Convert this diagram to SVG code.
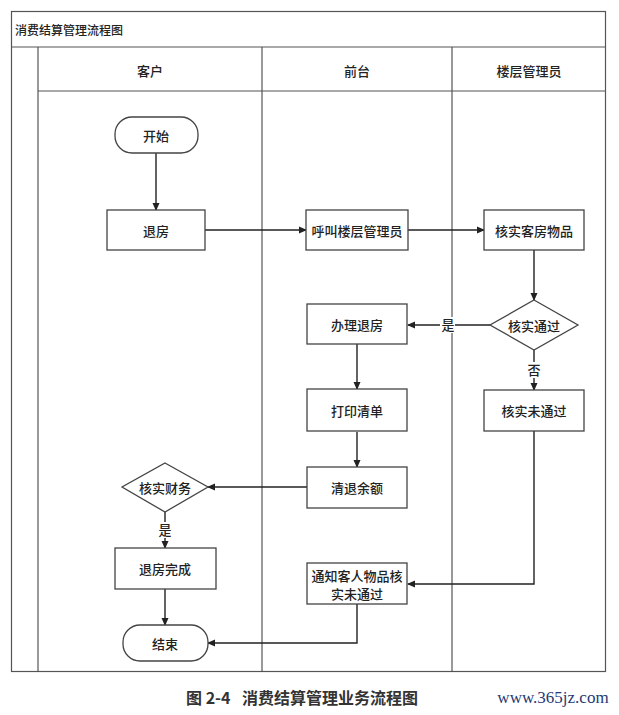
<svg xmlns="http://www.w3.org/2000/svg" width="619" height="715" viewBox="0 0 619 715">
<style>
text{font-family:"Noto Sans CJK SC","Liberation Sans",sans-serif;fill:#222;text-anchor:middle;dominant-baseline:central}
.frame{fill:none;stroke:#555;stroke-width:1.2}
.box{fill:#fff;stroke:#444;stroke-width:1.3}
.lbl{font-size:13px;font-weight:500}
.edge{fill:none;stroke:#222;stroke-width:1.4;marker-end:url(#ah)}
.cap{font-size:16px;font-weight:bold;fill:#333}
</style>
<defs>
<marker id="ah" markerWidth="8" markerHeight="8" refX="7" refY="4" orient="auto" markerUnits="userSpaceOnUse">
<path d="M0,0.5 L8,4 L0,7.5 Z" fill="#222"/>
</marker>
</defs>
<rect width="619" height="715" fill="#fff"/>
<g id="frame">
<rect class="frame" x="11.5" y="11.5" width="594" height="660"/>
<line class="frame" x1="11.5" y1="47" x2="605.5" y2="47"/>
<line class="frame" x1="38" y1="91" x2="605.5" y2="91"/>
<line class="frame" x1="38" y1="47" x2="38" y2="671.5"/>
<line class="frame" x1="262" y1="47" x2="262" y2="671.5"/>
<line class="frame" x1="452" y1="47" x2="452" y2="671.5"/>
<text x="15" y="29" style="font-size:12px;font-weight:500;text-anchor:start">消费结算管理流程图</text>
<text x="150" y="70" class="lbl">客户</text>
<text x="357" y="70" class="lbl">前台</text>
<text x="529" y="70" class="lbl">楼层管理员</text>
</g>
<g id="connectors">
<line class="edge" x1="156" y1="152" x2="156" y2="210"/>
<line class="edge" x1="205" y1="230" x2="306" y2="230"/>
<line class="edge" x1="408" y1="230" x2="484" y2="230"/>
<line class="edge" x1="534" y1="250" x2="534" y2="300"/>
<line class="edge" x1="490" y1="325" x2="408" y2="325"/>
<line class="edge" x1="534" y1="350" x2="534" y2="390"/>
<line class="edge" x1="357" y1="344" x2="357" y2="389"/>
<line class="edge" x1="357" y1="432" x2="357" y2="467"/>
<line class="edge" x1="307" y1="487" x2="208" y2="487"/>
<line class="edge" x1="165" y1="512" x2="165" y2="548"/>
<line class="edge" x1="165" y1="589" x2="165" y2="625"/>
<polyline class="edge" points="534,431 534,584 408,584"/>
<polyline class="edge" points="357,604 357,643 208,643"/>
<rect x="440" y="317" width="15" height="16" fill="#fff"/>
<text x="448" y="324" class="lbl">是</text>
<rect x="527" y="362" width="15" height="16" fill="#fff"/>
<text x="534" y="369" class="lbl">否</text>
<rect x="158" y="522" width="15" height="16" fill="#fff"/>
<text x="165" y="529" class="lbl">是</text>
</g>
<g id="start"><rect class="box" x="115" y="117" width="83" height="36" rx="17"/><text x="156" y="135" class="lbl">开始</text></g>
<g id="checkout"><rect class="box" x="107" y="210" width="98" height="40"/><text x="156" y="230" class="lbl">退房</text></g>
<g id="call"><rect class="box" x="306" y="210" width="102" height="40"/><text x="357" y="230" class="lbl">呼叫楼层管理员</text></g>
<g id="verify"><rect class="box" x="484" y="210" width="100" height="40"/><text x="534" y="230" class="lbl">核实客房物品</text></g>
<g id="pass"><polygon class="box" points="534,300 578,325 534,350 490,325"/><text x="534" y="325" class="lbl">核实通过</text></g>
<g id="handle"><rect class="box" x="307" y="304" width="100" height="40"/><text x="357" y="324" class="lbl">办理退房</text></g>
<g id="print"><rect class="box" x="307" y="389" width="100" height="42"/><text x="357" y="410" class="lbl">打印清单</text></g>
<g id="refund"><rect class="box" x="307" y="467" width="100" height="41"/><text x="357" y="487" class="lbl">清退余额</text></g>
<g id="fail"><rect class="box" x="484" y="390" width="100" height="41"/><text x="534" y="410" class="lbl">核实未通过</text></g>
<g id="finance"><polygon class="box" points="165,463 208,487 165,512 122,487"/><text x="165" y="487" class="lbl">核实财务</text></g>
<g id="done"><rect class="box" x="115" y="548" width="101" height="41"/><text x="165" y="568" class="lbl">退房完成</text></g>
<g id="notify"><rect class="box" x="307" y="563" width="100" height="41"/><text x="357" y="575" class="lbl">通知客人物品核</text><text x="357" y="593" class="lbl">实未通过</text></g>
<g id="end"><rect class="box" x="123" y="625" width="85" height="36" rx="17"/><text x="165" y="643" class="lbl">结束</text></g>
<g id="caption">
<text x="186" y="697" class="cap" style="text-anchor:start">图 2-4</text>
<text x="242" y="697" class="cap" style="text-anchor:start">消费结算管理业务流程图</text>
<text x="553" y="697" style="font-family:'Liberation Serif',serif;font-size:17px;fill:#1f3a75">www.365jz.com</text>
</g>
</svg>
